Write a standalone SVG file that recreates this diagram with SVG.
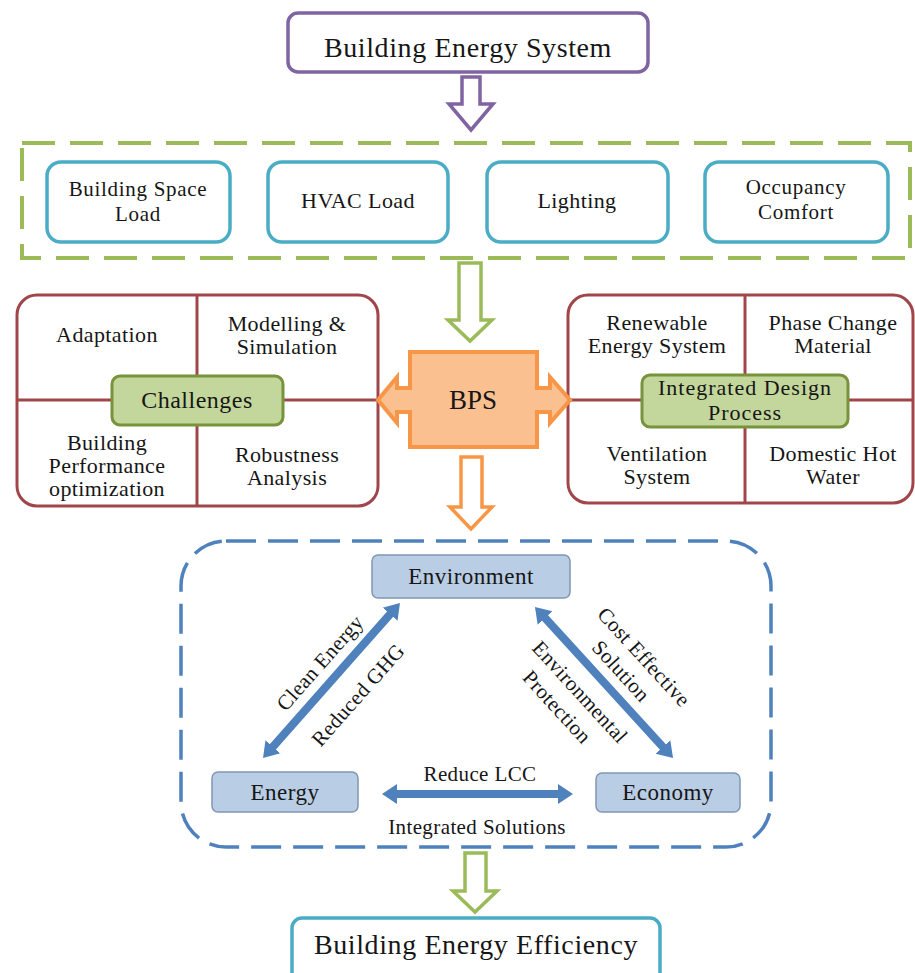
<svg xmlns="http://www.w3.org/2000/svg" width="915" height="973" viewBox="0 0 915 973">
<defs>
<style>
.t{font-family:"Liberation Serif","Times New Roman",serif;fill:#161616;text-anchor:middle}
.s28{font-size:28px;letter-spacing:0.6px}
.s22{font-size:22px;letter-spacing:0.4px}
.s21b{font-size:21px;letter-spacing:0.7px}
.s24{font-size:24px;letter-spacing:0.5px}
.s23{font-size:23px;letter-spacing:0.5px}
.s21{font-size:21px;letter-spacing:0.4px}
.aq{fill:#fff;stroke:#4bacc6;stroke-width:3.5}
.rb{fill:#fff;stroke:#a0464a;stroke-width:3}
.rl{stroke:#a0464a;stroke-width:3;fill:none}
.gl{fill:#c3d69b;stroke:#77933c;stroke-width:3}
.bn{fill:#b9cde5;stroke:#8096b4;stroke-width:1.5}
.ba{stroke:#4f81bd;stroke-width:8;fill:none;marker-start:url(#bh);marker-end:url(#bh)}
.ha{fill:#fff;stroke-width:3.5;stroke-linejoin:miter}
</style>
<marker id="bh" markerUnits="userSpaceOnUse" markerWidth="16" markerHeight="22" viewBox="0 -11 16 22" refX="1" refY="0" orient="auto-start-reverse"><path d="M0,-10 L15,0 L0,10 z" fill="#4f81bd"/></marker>
</defs>

<rect x="0" y="0" width="915" height="973" fill="#fff"/>

<g id="building-energy-system">
<rect x="288" y="13" width="360" height="59" rx="10" fill="#fff" stroke="#8064a2" stroke-width="3.5"/>
<text class="t s28" x="468" y="57">Building Energy System</text>
</g>

<g id="components-group">
<rect x="22" y="143" width="888" height="115" fill="none" stroke="#9bbb59" stroke-width="4" stroke-dasharray="33 15"/>
</g>
<g id="building-space-load">
<rect class="aq" x="47" y="162" width="183" height="80" rx="14"/>
<text class="t s21b" x="138" y="196">Building Space</text>
<text class="t s21b" x="138" y="221">Load</text>
</g>
<g id="hvac-load">
<rect class="aq" x="268" y="162" width="180" height="80" rx="14"/>
<text class="t s22" x="358" y="208">HVAC Load</text>
</g>
<g id="lighting">
<rect class="aq" x="487" y="162" width="181" height="80" rx="14"/>
<text class="t s22" x="577" y="208">Lighting</text>
</g>
<g id="occupancy-comfort">
<rect class="aq" x="705" y="162" width="183" height="80" rx="14"/>
<text class="t s21b" x="796" y="194">Occupancy</text>
<text class="t s21b" x="796" y="219">Comfort</text>
</g>

<g id="challenges-panel">
<rect class="rb" x="17" y="295" width="361" height="211" rx="20"/>
<line class="rl" x1="197" y1="295" x2="197" y2="506"/>
<line class="rl" x1="17" y1="400" x2="378" y2="400"/>
<text class="t s22" x="107" y="342">Adaptation</text>
<text class="t s22" x="287" y="331">Modelling &amp;</text>
<text class="t s22" x="287" y="354">Simulation</text>
<text class="t s22" x="107" y="450">Building</text>
<text class="t s22" x="107" y="473">Performance</text>
<text class="t s22" x="107" y="496">optimization</text>
<text class="t s22" x="287" y="462">Robustness</text>
<text class="t s22" x="287" y="485">Analysis</text>
</g>
<g id="challenges">
<rect class="gl" x="112" y="376" width="171" height="49" rx="8"/>
<text class="t s24" x="197" y="408">Challenges</text>
</g>

<g id="idp-panel">
<rect class="rb" x="568" y="295" width="345" height="208" rx="20"/>
<line class="rl" x1="745" y1="295" x2="745" y2="503"/>
<line class="rl" x1="568" y1="400" x2="913" y2="400"/>
<text class="t s22" x="657" y="330">Renewable</text>
<text class="t s22" x="657" y="353">Energy System</text>
<text class="t s22" x="833" y="330">Phase Change</text>
<text class="t s22" x="833" y="353">Material</text>
<text class="t s22" x="657" y="461">Ventilation</text>
<text class="t s22" x="657" y="484">System</text>
<text class="t s22" x="833" y="461">Domestic Hot</text>
<text class="t s22" x="833" y="484">Water</text>
</g>
<g id="integrated-design-process">
<rect class="gl" x="642" y="375" width="206" height="52" rx="8"/>
<text class="t" x="745" y="395" style="font-size:22px;letter-spacing:1px">Integrated Design</text>
<text class="t" x="745" y="420" style="font-size:22px;letter-spacing:1px">Process</text>
</g>

<g id="bps">
<polygon points="410,352 537,352 537,388 550,388 550,377 570,400 550,423 550,412 537,412 537,447 410,447 410,412 397,412 397,423 378,400 397,377 397,388 410,388" fill="#fac090" stroke="#f79646" stroke-width="4" stroke-linejoin="miter"/>
<text class="t" x="473" y="409" style="font-size:27px">BPS</text>
</g>

<g id="sustainability-group">
<rect x="181" y="541" width="590" height="306" rx="45" fill="none" stroke="#4f81bd" stroke-width="3.5" stroke-dasharray="30 12"/>
</g>
<g id="environment">
<rect class="bn" x="372" y="555" width="198" height="43" rx="6"/>
<text class="t s23" x="471" y="584">Environment</text>
</g>
<g id="energy">
<rect class="bn" x="212" y="772" width="146" height="40" rx="6"/>
<text class="t s23" x="285" y="800">Energy</text>
</g>
<g id="economy">
<rect class="bn" x="596" y="773" width="144" height="39" rx="6"/>
<text class="t s23" x="668" y="800">Economy</text>
</g>

<g id="connectors">
<polygon class="ha" stroke="#8064a2" points="462,77 480,77 480,104 493,104 471,130 449,104 462,104"/>
<polygon class="ha" stroke="#9bbb59" points="459,263 481,263 481,320 492,320 470,341 448,320 459,320"/>
<polygon class="ha" stroke="#f79646" points="461,457 482,457 482,507 492,507 471,529 450,507 461,507"/>
<polygon class="ha" stroke="#9bbb59" points="465,853 486,853 486,891 497,891 475,912 453,891 465,891"/>

<line class="ba" x1="272.3" y1="747.5" x2="390.7" y2="613.5"/>
<line class="ba" x1="544.4" y1="617.3" x2="663.6" y2="747.7"/>
<line class="ba" x1="396" y1="794" x2="559" y2="794"/>

<text class="t s21" transform="translate(320,663) rotate(-48.5)" y="7">Clean Energy</text>
<text class="t s21" transform="translate(358,695) rotate(-48.5)" y="7">Reduced GHG</text>
<text class="t s21" transform="translate(644,657) rotate(47.6)" y="7">Cost Effective</text>
<text class="t s21" transform="translate(621,671) rotate(47.6)" y="7">Solution</text>
<text class="t s21" transform="translate(580,692) rotate(47.6)" y="7">Environmental</text>
<text class="t s21" transform="translate(557,707) rotate(47.6)" y="7">Protection</text>
<text class="t s21" x="480" y="781">Reduce LCC</text>
<text class="t s21" x="477" y="834">Integrated Solutions</text>
</g>

<g id="building-energy-efficiency">
<rect x="292" y="918" width="368" height="70" rx="10" fill="#fff" stroke="#4bacc6" stroke-width="3.5"/>
<text class="t s28" x="476" y="954">Building Energy Efficiency</text>
</g>
</svg>
